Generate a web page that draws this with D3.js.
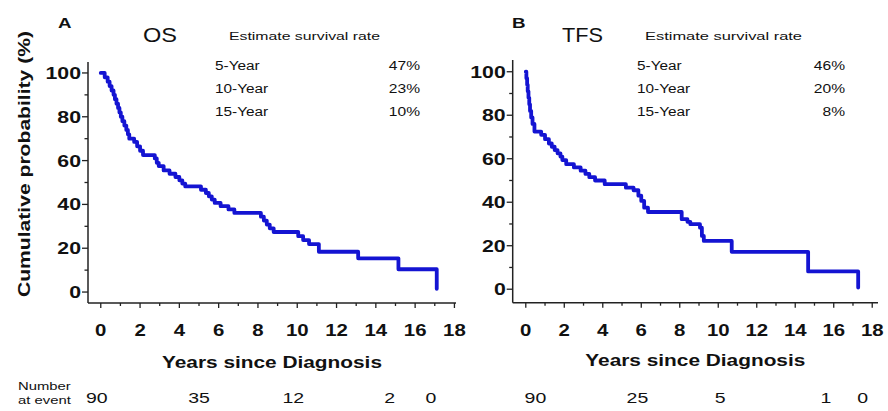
<!DOCTYPE html>
<html><head><meta charset="utf-8">
<script src="https://cdn.jsdelivr.net/npm/d3@7"></script>
<style>body{margin:0;background:#fff} svg{display:block} text{font-family:"Liberation Sans",Arial,sans-serif;fill:#111}</style>
</head><body><svg id="c" width="888" height="411"></svg>
<script>
// ---- data ----
const osTimes = [0,0.2,0.35,0.45,0.55,0.65,0.72,0.8,0.88,0.95,1.02,1.1,1.2,1.3,1.38,1.45,1.7,1.85,2.0,2.15,2.75,2.85,2.95,3.2,3.5,3.8,4.0,4.15,4.3,5.1,5.35,5.5,5.65,5.8,6.1,6.5,6.8,8.15,8.3,8.45,8.6,8.8,10.05,10.3,10.6,11.1,13.1,15.15,17.1];
const osSurv  = [100,98,96,94,92,90,88,86,84,82,80,78,76,74,72,70,68.5,66.5,64.5,62.5,61,59,57.5,55.5,54,52.5,51,49.5,48.2,46.7,45.2,43.7,42.2,40.7,39.2,37.7,36.1,34.4,32.6,30.8,29.1,27.4,25.5,23.7,21.9,18.4,15.4,10.4,1.5];
const tfsTimes = [0,0.03,0.07,0.1,0.14,0.18,0.22,0.28,0.35,0.45,0.8,1.0,1.2,1.35,1.5,1.65,1.8,1.9,2.1,2.5,2.85,3.1,3.3,3.6,4.1,5.2,5.6,5.85,6.0,6.15,6.35,8.1,8.4,8.55,9.05,9.15,9.25,10.7,14.67,17.27];
const tfsSurv  = [100,97,94,91,88,85,82,79,76,72.5,71,69,67,65.5,64,62.5,61,59.4,57.5,56,54.5,53,51.5,50,48.3,46.7,45.5,43,40.6,37.5,35.5,32.2,31,29.9,28.3,24.5,22.2,17.2,8.2,0.8];
const xTickValues = [0,2,4,6,8,10,12,14,16,18];
const yTickValues = [0,20,40,60,80,100];
const rateLabels = ["5-Year","10-Year","15-Year"];
const osRates = ["47%","23%","10%"];
const tfsRates = ["46%","20%","8%"];
const riskOS = [90,35,12,2,0];
const riskOSTimes = [-0.2,5,9.8,14.7,16.8];
const riskTFS = [90,25,5,1,0];
const riskTFSTimes = [0.5,5.8,10.1,15.6,17.5];

const svg = d3.select("#c");
const blue = "#1414d2";

// text with horizontal stretch (reference glyphs are wide)
function stext(g, x, y, txt, size, anchor, sx, weight){
  return g.append("text").attr("transform",`translate(${x},${y}) scale(${sx},1)`)
    .attr("text-anchor",anchor||"start").attr("font-size",size)
    .attr("font-weight",weight||"normal").text(txt);
}

function panel(o){
  const x = d3.scaleLinear().domain(o.xd).range(o.xr);
  const y = d3.scaleLinear().domain(o.yd).range(o.yr);
  const g = svg.append("g");
  g.append("line").attr("x1",o.xr[0]).attr("x2",o.xr[0]).attr("y1",o.yr[1]).attr("y2",o.yr[0]).attr("stroke","#222").attr("stroke-width",1.5);
  g.append("line").attr("x1",o.xr[0]).attr("x2",o.xr[1]).attr("y1",o.yr[0]).attr("y2",o.yr[0]).attr("stroke","#222").attr("stroke-width",1.5);
  const yMinor = d3.range(10,101,20);
  g.selectAll(".ym").data(yTickValues.concat(yMinor)).join("line")
    .attr("x1",o.xr[0]).attr("x2",d=>o.xr[0]-(d%20===0?6:3.5))
    .attr("y1",d=>y(d)).attr("y2",d=>y(d)).attr("stroke","#222").attr("stroke-width",1.3);
  yTickValues.forEach(d=>stext(g,o.xr[0]-7,y(d)+6,d,17,"end",1.25,"bold"));
  const xMinor = d3.range(1,18,2);
  g.selectAll(".xm").data(xTickValues.concat(xMinor)).join("line")
    .attr("x1",d=>x(d)).attr("x2",d=>x(d)).attr("y1",o.yr[0]).attr("y2",d=>o.yr[0]+(d%2===0?5:3))
    .attr("stroke","#222").attr("stroke-width",1.3);
  xTickValues.forEach(d=>stext(g,x(d),o.yr[0]+33,d,17,"middle",1.2,"bold"));
  g.append("text").attr("x",(o.xr[0]+o.xr[1])/2-110).attr("y",o.xtY)
    .attr("font-size",17).attr("font-weight","bold").attr("textLength",220).attr("lengthAdjust","spacingAndGlyphs").text("Years since Diagnosis");
  const pts = o.t.map((t,i)=>[t,o.s[i]]);
  g.append("path").datum(pts)
    .attr("d",d3.line().x(d=>x(d[0])).y(d=>y(d[1])).curve(d3.curveStepAfter))
    .attr("fill","none").attr("stroke",blue).attr("stroke-width",3.8).attr("stroke-linejoin","round").attr("stroke-linecap","round");
  stext(g,o.letterX,28,o.letter,15,"start",1.25,"bold");
  g.append("text").attr("x",o.titleX).attr("y",42).attr("font-size",21).attr("textLength",o.titleW).attr("lengthAdjust","spacingAndGlyphs").text(o.title);
  g.append("text").attr("x",o.estX).attr("y",40).attr("font-size",11).attr("textLength",o.estW).attr("lengthAdjust","spacingAndGlyphs").text("Estimate survival rate");
  rateLabels.forEach((lab,i)=>{
    stext(g,o.rowX,70+i*23,lab,12,"start",1.28);
    stext(g,o.rateR,70+i*23,o.rates[i],12,"end",1.3);
  });
  o.risk.forEach((d,i)=>stext(g,x(o.riskT[i]),403,d,15,"middle",1.3));
  return {x,y};
}

panel({xd:[-0.65,18.08],xr:[88,456],yd:[-5,105],yr:[303,62],xtY:368,
  t:osTimes,s:osSurv,letter:"A",letterX:58,title:"OS",titleX:143,titleW:34,estX:229,estW:151,
  rowX:215,rateR:420,rates:osRates,risk:riskOS,riskT:riskOSTimes});
panel({xd:[-0.68,18.3],xr:[512.7,878],yd:[-6.2,105.4],yr:[302.7,60],xtY:366,
  t:tfsTimes,s:tfsSurv,letter:"B",letterX:512,title:"TFS",titleX:562,titleW:41,estX:645,estW:157,
  rowX:637,rateR:845,rates:tfsRates,risk:riskTFS,riskT:riskTFSTimes});

svg.append("text").attr("transform","translate(30,297) rotate(-90)")
  .attr("font-size",17).attr("font-weight","bold").attr("textLength",266).attr("lengthAdjust","spacingAndGlyphs").text("Cumulative probability  (%)");
stext(svg,18,390,"Number",11,"start",1.35);
stext(svg,18,404,"at event",11,"start",1.35);
</script></body></html>
